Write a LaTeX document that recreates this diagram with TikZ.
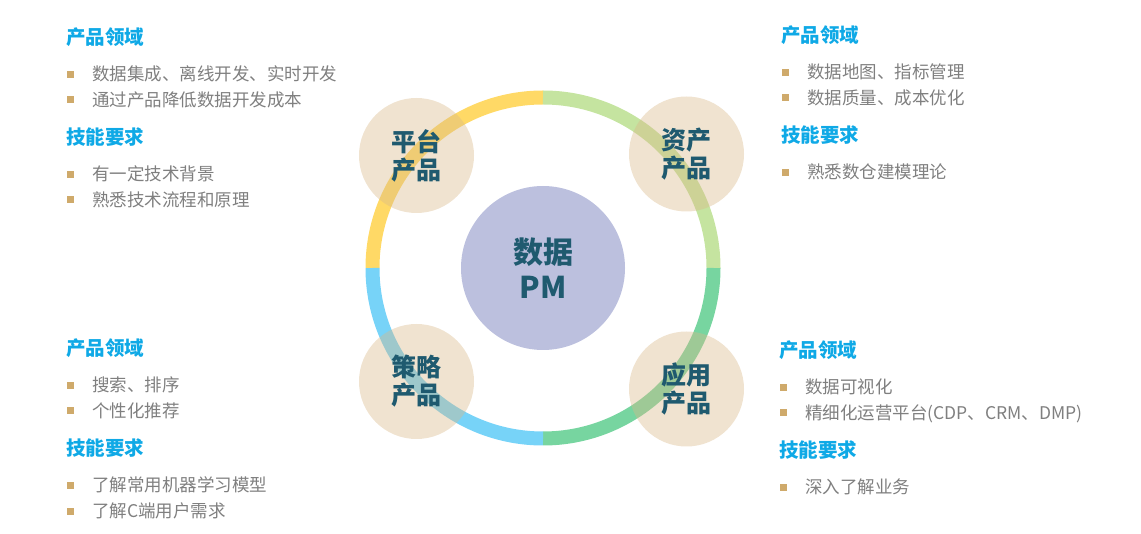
\documentclass[tikz,border=0pt]{standalone}
\usepackage{fontspec}
\setmainfont{Noto Sans CJK SC}
\usepackage{tikz}
\usetikzlibrary{positioning}
\usepackage{xcolor}
\definecolor{ringyellow}{HTML}{FFD966}
\definecolor{ringlime}{HTML}{C5E4A0}
\definecolor{ringgreen}{HTML}{77D5A0}
\definecolor{ringblue}{HTML}{77D3F8}
\definecolor{hubfill}{HTML}{BCC0DE}
\definecolor{prodfill}{HTML}{D9B989}
\definecolor{labelteal}{HTML}{1F5A6F}
\definecolor{headblue}{HTML}{0FA9E6}
\definecolor{textgray}{HTML}{7F7F7F}
\definecolor{bulletgold}{HTML}{CFAA6B}

\begin{document}
\begin{tikzpicture}[
x=1pt, y=1pt,
ring/.style={line width=14pt},
hub/.style={circle,
minimum size=164pt,
fill=hubfill,
align=center,
text=labelteal,
font=\fontsize{30}{35}\selectfont\bfseries},
prod/.style={circle,
minimum size=115pt,
fill=prodfill,
fill opacity=0.4,
text opacity=1,
align=center,
text=labelteal,
font=\fontsize{25}{28}\selectfont\bfseries},
title/.style={anchor=west,
inner sep=0pt,
text=headblue,
text height=16.5pt,
text depth=2pt,
font=\fontsize{19.5}{22}\selectfont\bfseries},
bullet/.style={fill=bulletgold,
minimum size=7pt,
inner sep=0pt,
label distance=18pt},
item/.style={inner sep=0pt,
text=textgray,
text height=14.5pt,
text depth=2pt,
font=\fontsize{17.5}{20}\selectfont,
label={[bullet]left:{}}}
]

\useasboundingbox (0,0) rectangle (1141,-534);

\coordinate (ringc) at (543,-268);

\draw[ring, ringyellow] (ringc) ++(180:170.5) arc[start angle=180, end angle=90, radius=170.5];
\draw[ring, ringlime] (ringc) ++(90:170.5) arc[start angle=90, end angle=0, radius=170.5];
\draw[ring, ringgreen] (ringc) ++(0:170.5) arc[start angle=0, end angle=-90, radius=170.5];
\draw[ring, ringblue] (ringc) ++(270:170.5) arc[start angle=270, end angle=180, radius=170.5];

\node[hub] (pm) at (ringc) {数据\\PM};
\node[prod] (plat) at (416.5,-155.5) {平台\\产品};
\node[prod] (asset) at (686.5,-154) {资产\\产品};
\node[prod] (strat) at (416.5,-381.5) {策略\\产品};
\node[prod] (app) at (686.5,-389) {应用\\产品};

% platform
\node[title] (platA) at (66,-37) {产品领域};
\node[item, below right=19.5pt and 26pt of platA.south west] (platA1) {数据集成、离线开发、实时开发};
\node[item, below right=8.5pt and 0pt of platA1.south west] (platA2) {通过产品降低数据开发成本};
\node[title, below right=19.5pt and -26pt of platA2.south west] (platB) {技能要求};
\node[item, below right=19.5pt and 26pt of platB.south west] (platB1) {有一定技术背景};
\node[item, below right=8.5pt and 0pt of platB1.south west] (platB2) {熟悉技术流程和原理};

% asset
\node[title] (assetA) at (781,-35) {产品领域};
\node[item, below right=19.5pt and 26pt of assetA.south west] (assetA1) {数据地图、指标管理};
\node[item, below right=8.5pt and 0pt of assetA1.south west] (assetA2) {数据质量、成本优化};
\node[title, below right=19.5pt and -26pt of assetA2.south west] (assetB) {技能要求};
\node[item, below right=19.5pt and 26pt of assetB.south west] (assetB1) {熟悉数仓建模理论};

% strategy
\node[title] (stratA) at (66,-348) {产品领域};
\node[item, below right=19.5pt and 26pt of stratA.south west] (stratA1) {搜索、排序};
\node[item, below right=8.5pt and 0pt of stratA1.south west] (stratA2) {个性化推荐};
\node[title, below right=19.5pt and -26pt of stratA2.south west] (stratB) {技能要求};
\node[item, below right=19.5pt and 26pt of stratB.south west] (stratB1) {了解常用机器学习模型};
\node[item, below right=8.5pt and 0pt of stratB1.south west] (stratB2) {了解C端用户需求};

% application
\node[title] (appA) at (779,-350) {产品领域};
\node[item, below right=19.5pt and 26pt of appA.south west] (appA1) {数据可视化};
\node[item, below right=8.5pt and 0pt of appA1.south west] (appA2) {精细化运营平台(CDP、CRM、DMP)};
\node[title, below right=19.5pt and -26pt of appA2.south west] (appB) {技能要求};
\node[item, below right=19.5pt and 26pt of appB.south west] (appB1) {深入了解业务};

\end{tikzpicture}
\end{document}
